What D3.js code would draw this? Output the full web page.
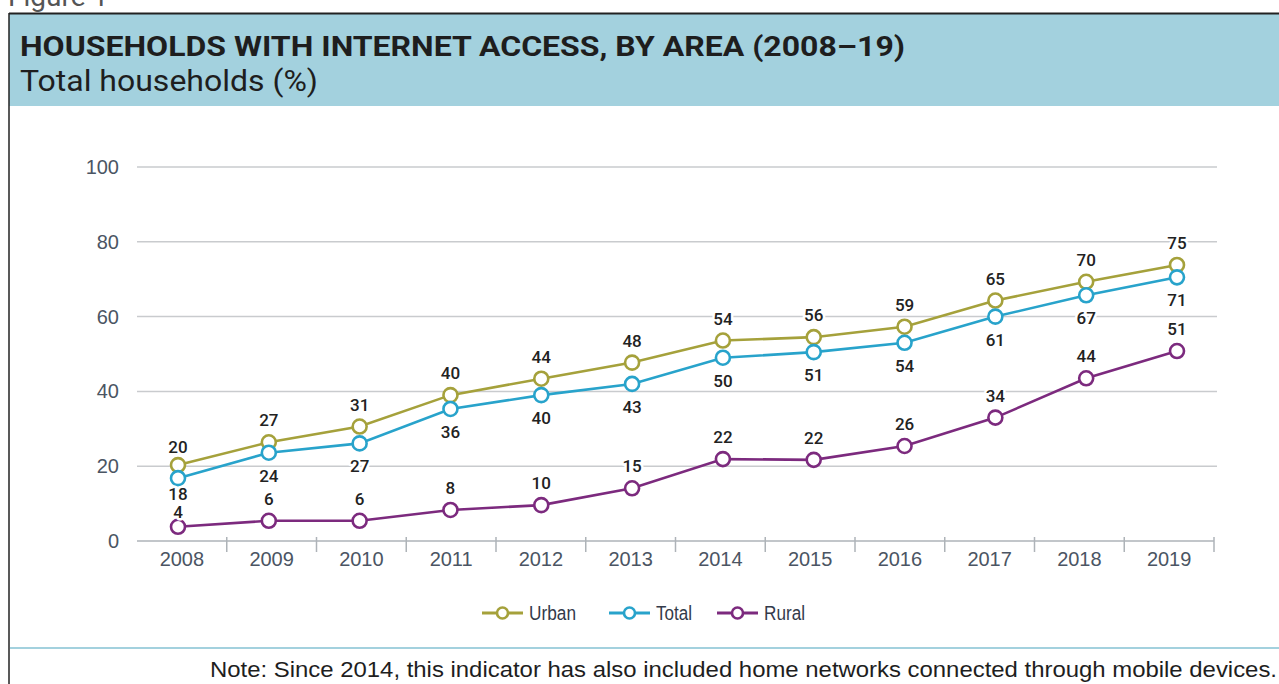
<!DOCTYPE html>
<html>
<head>
<meta charset="utf-8">
<script src="https://cdn.jsdelivr.net/npm/d3@7"></script>
<style>
  body { margin: 0; background: #fff; overflow: hidden; }
  svg { display: block; }
</style>
</head>
<body>
<div id="chart"></div>
<script>
// data
let years = ["2008", "2009", "2010", "2011", "2012", "2013", "2014", "2015", "2016", "2017", "2018", "2019"];
let urbanValues = [20.3, 26.4, 30.6, 39.0, 43.4, 47.7, 53.6, 54.5, 57.3, 64.3, 69.3, 73.8];
let totalValues = [16.8, 23.6, 26.1, 35.3, 39.0, 42.0, 49.0, 50.5, 53.0, 60.0, 65.7, 70.5];
let ruralValues = [3.8, 5.4, 5.4, 8.3, 9.6, 14.1, 21.9, 21.7, 25.4, 33.0, 43.5, 50.8];
let urbanLabels = [20, 27, 31, 40, 44, 48, 54, 56, 59, 65, 70, 75];
let totalLabels = [18, 24, 27, 36, 40, 43, 50, 51, 54, 61, 67, 71];
let ruralLabels = [4, 6, 6, 8, 10, 15, 22, 22, 26, 34, 44, 51];
let yTicks = [0, 20, 40, 60, 80, 100];

let series = [
    {name: "Urban", values: urbanValues, labels: urbanLabels, color: "#a5a13b", pos: "above"},
    {name: "Total", values: totalValues, labels: totalLabels, color: "#28a3cb", pos: "below"},
    {name: "Rural", values: ruralValues, labels: ruralLabels, color: "#7c2a7e", pos: "above"}
];

let width = 1279, height = 684;

let svg = d3.select("#chart").append("svg")
    .attr("width", width)
    .attr("height", height);

// header block
svg.append("text")
    .attr("x", 8)
    .attr("y", 6)
    .attr("font-family", "Roboto, sans-serif")
    .attr("font-size", 28)
    .attr("fill", "#555")
    .text("Figure 1");

svg.append("rect")
    .attr("x", 9).attr("y", 13)
    .attr("width", width - 9).attr("height", 93)
    .attr("fill", "#a3d1de");
svg.append("line")
    .attr("x1", 9).attr("x2", width)
    .attr("y1", 13.5).attr("y2", 13.5)
    .attr("stroke", "#222").attr("stroke-width", 2);
svg.append("line")
    .attr("x1", 9).attr("x2", 9)
    .attr("y1", 13).attr("y2", height)
    .attr("stroke", "#222").attr("stroke-width", 1.5);

svg.append("text")
    .attr("x", 20)
    .attr("y", 56)
    .attr("font-family", "Roboto, sans-serif")
    .attr("font-weight", "bold")
    .attr("font-size", 27)
    .attr("fill", "#1e1e1e")
    .attr("textLength", 885)
    .attr("lengthAdjust", "spacingAndGlyphs")
    .text("HOUSEHOLDS WITH INTERNET ACCESS, BY AREA (2008–19)");

svg.append("text")
    .attr("x", 20)
    .attr("y", 91)
    .attr("font-family", "Roboto, sans-serif")
    .attr("font-size", 29)
    .attr("fill", "#1e1e1e")
    .attr("textLength", 298)
    .attr("lengthAdjust", "spacingAndGlyphs")
    .text("Total households (%)");

// scales
let x = d3.scaleBand().domain(years).range([137, 1214]);
let xPt = d3.scalePoint().domain(years).range([178, 1177]);
let y = d3.scaleLinear().domain([0, 100]).range([541, 167]);

// gridlines
svg.append("g")
    .selectAll("line")
    .data(yTicks.slice(1))
    .enter().append("line")
    .attr("x1", 137).attr("x2", 1217)
    .attr("y1", d => y(d)).attr("y2", d => y(d))
    .attr("stroke", "#c9cbce")
    .attr("stroke-width", 1.5);

// y labels
svg.append("g")
    .selectAll("text")
    .data(yTicks)
    .enter().append("text")
    .attr("x", 119)
    .attr("y", d => y(d) + 7)
    .attr("text-anchor", "end")
    .attr("font-family", "'Liberation Sans', Arial, sans-serif")
    .attr("font-size", 20)
    .attr("fill", "#4b5563")
    .text(d => d);

// x axis
let xAxis = d3.axisBottom(x).tickSize(0).tickPadding(0);
let gx = svg.append("g")
    .attr("transform", "translate(0," + y(0) + ")")
    .call(xAxis);
gx.select(".domain").remove();
gx.selectAll("text")
    .attr("y", 25)
    .attr("dy", 0)
    .attr("font-family", "'Liberation Sans', Arial, sans-serif")
    .attr("font-size", 20)
    .attr("fill", "#4b5563");

svg.append("line")
    .attr("x1", 137).attr("x2", 1214)
    .attr("y1", y(0)).attr("y2", y(0))
    .attr("stroke", "#aeb3b8")
    .attr("stroke-width", 1.5);

svg.append("g")
    .selectAll("line")
    .data(years)
    .enter().append("line")
    .attr("x1", d => x(d) + x.bandwidth()).attr("x2", d => x(d) + x.bandwidth())
    .attr("y1", y(0) - 4).attr("y2", y(0) + 11)
    .attr("stroke", "#aeb3b8")
    .attr("stroke-width", 1.5);

// lines + markers
let line = d3.line()
    .x((d, i) => xPt(years[i]))
    .y(d => y(d));

series.slice().reverse().forEach(s => {
    svg.append("path")
        .datum(s.values)
        .attr("d", line)
        .attr("fill", "none")
        .attr("stroke", s.color)
        .attr("stroke-width", 2.6);
});

series.forEach(s => {
    svg.append("g")
        .selectAll("circle")
        .data(s.values)
        .enter().append("circle")
        .attr("cx", (d, i) => xPt(years[i]))
        .attr("cy", d => y(d))
        .attr("r", 7)
        .attr("fill", "#fff")
        .attr("stroke", s.color)
        .attr("stroke-width", 2.6);
});

// value labels
series.forEach(s => {
    svg.append("g")
        .selectAll("text")
        .data(s.values)
        .enter().append("text")
        .attr("x", (d, i) => xPt(years[i]))
        .attr("y", function(d, i) {
            if (s.pos == "below") return y(d) + (i == 0 ? 22 : 29);
            if (s.name == "Rural" && i == 0) return y(d) - 9;
            return y(d) - (i == 0 ? 12 : 16);
        })
        .attr("text-anchor", "middle")
        .attr("font-family", "Roboto, sans-serif")
        .attr("font-weight", 500)
        .attr("font-size", 17)
        .attr("fill", "#222")
        .attr("stroke", "#fff")
        .attr("stroke-width", 5)
        .attr("stroke-linejoin", "round")
        .attr("paint-order", "stroke")
        .text((d, i) => s.labels[i]);
});

// legend
let legendX = [482, 609, 717];
let legendW = [47, 36, 41];
let legend = svg.append("g");
series.forEach((s, i) => {
    let g = legend.append("g").attr("transform", "translate(" + legendX[i] + ",613)");
    g.append("line")
        .attr("x1", 0).attr("x2", 41)
        .attr("stroke", s.color).attr("stroke-width", 3);
    g.append("circle")
        .attr("cx", 20.5).attr("r", 5.5)
        .attr("fill", "#fff")
        .attr("stroke", s.color).attr("stroke-width", 2.6);
    g.append("text")
        .attr("x", 47).attr("y", 7)
        .attr("font-family", "'Liberation Sans Narrow', 'Arial Narrow', sans-serif")
        .attr("font-size", 20)
        .attr("fill", "#333a4a")
        .attr("textLength", legendW[i])
        .attr("lengthAdjust", "spacingAndGlyphs")
        .text(s.name);
});

// footer
svg.append("line")
    .attr("x1", 10).attr("x2", width)
    .attr("y1", 648).attr("y2", 648)
    .attr("stroke", "#a3d1de").attr("stroke-width", 2);

svg.append("text")
    .attr("x", 210)
    .attr("y", 677)
    .attr("font-family", "'Liberation Sans Narrow', 'Arial Narrow', sans-serif")
    .attr("font-size", 22)
    .attr("fill", "#1e1e1e")
    .attr("textLength", 1067)
    .attr("lengthAdjust", "spacingAndGlyphs")
    .text("Note: Since 2014, this indicator has also included home networks connected through mobile devices.");
</script>
</body>
</html>
